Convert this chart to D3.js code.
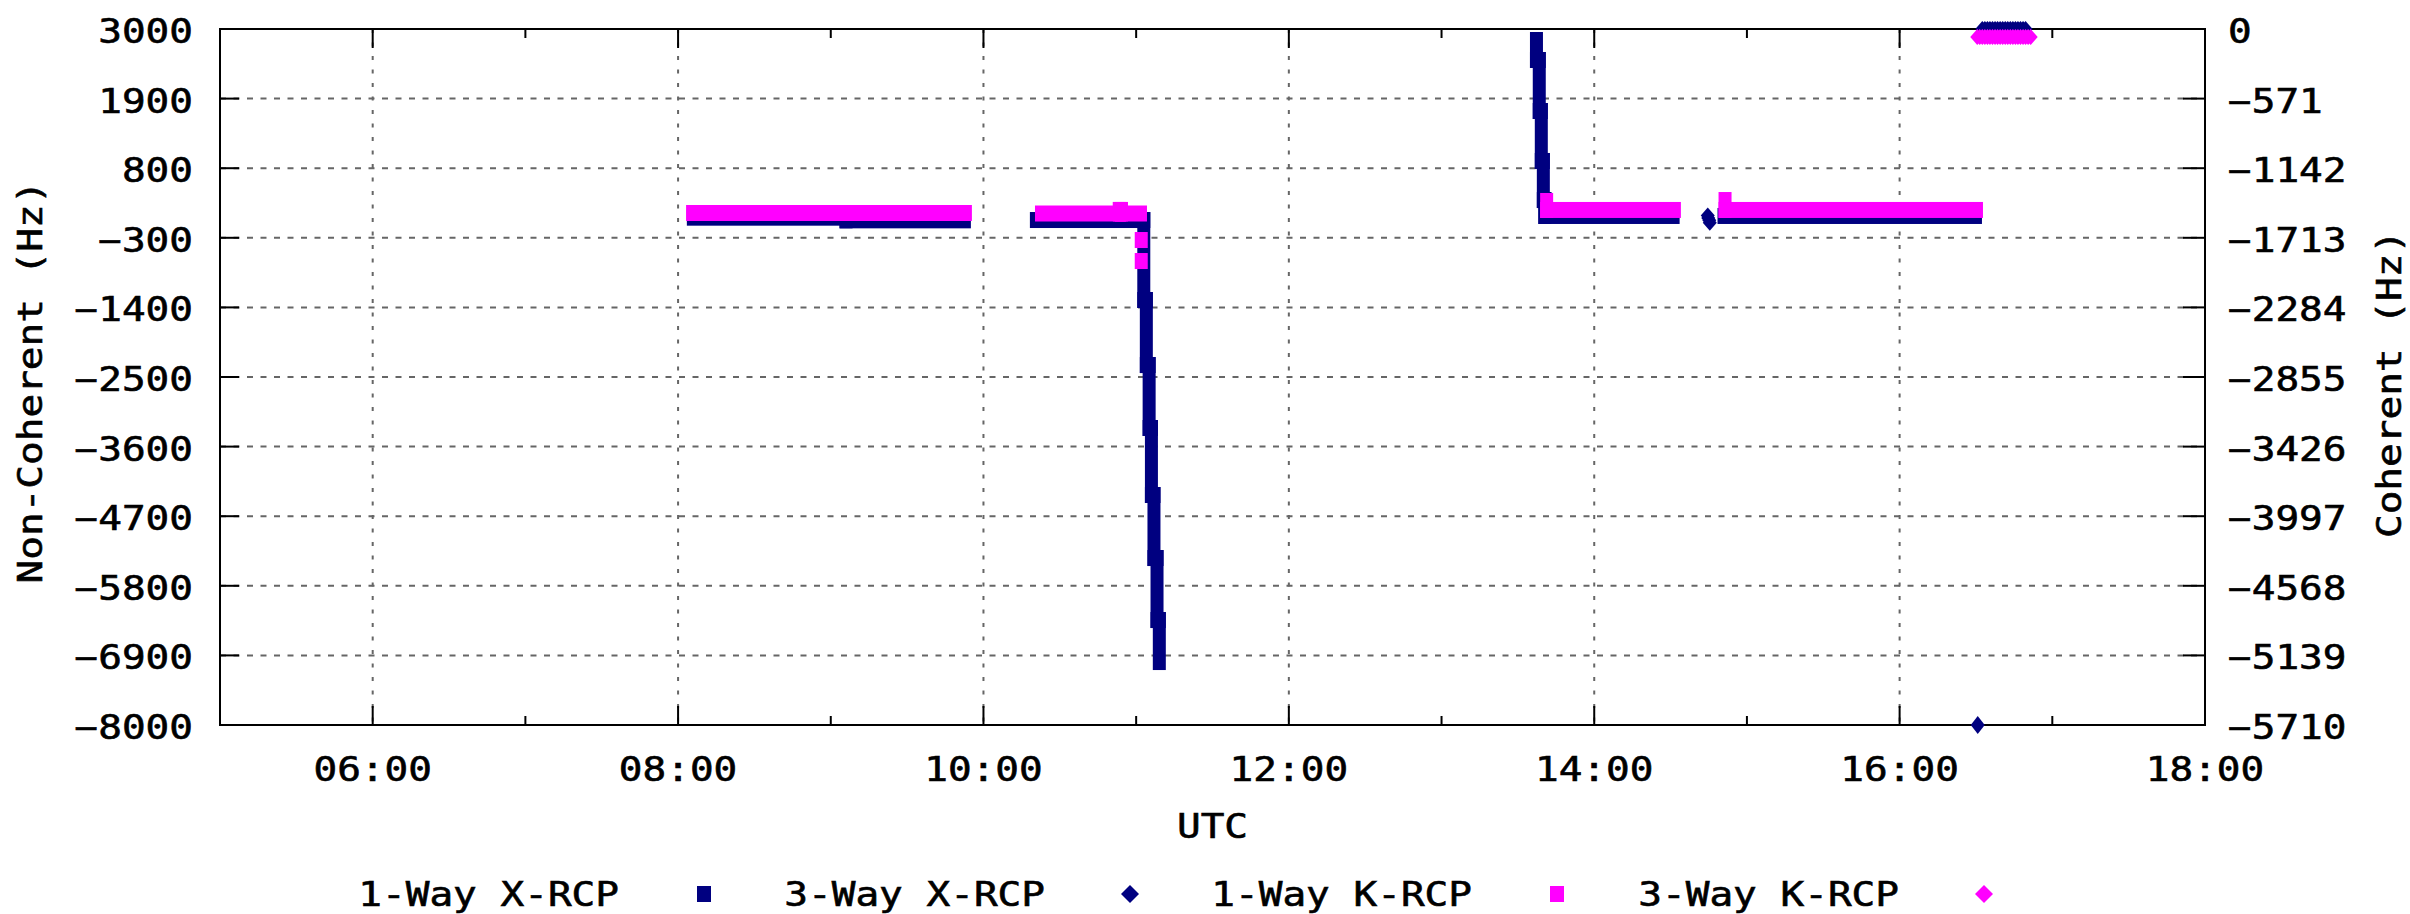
<!DOCTYPE html>
<html><head><meta charset="utf-8">
<script src="https://cdn.jsdelivr.net/npm/d3@7"></script>
<style>html,body{margin:0;padding:0;background:#fff;} svg{display:block;background:#fff;}</style>
</head><body><svg id="chart" width="2410" height="914"></svg>
<script>
// ---------------- data ----------------
const xTickHours = [5,6,7,8,9,10,11,12,13,14,15,16,17,18];
const xTickLabels = ["06:00","08:00","10:00","12:00","14:00","16:00","18:00"];
const yLeftTicks = [3000,1900,800,-300,-1400,-2500,-3600,-4700,-5800,-6900,-8000];
const yRightTicks = [0,-571,-1142,-1713,-2284,-2855,-3426,-3997,-4568,-5139,-5710];
const seriesNames = ["1-Way X-RCP","3-Way X-RCP","1-Way K-RCP","3-Way K-RCP"];
const seriesColors = ["#000080","#000080","#ff00ff","#ff00ff"];
const seriesShapes = ["square","diamond","square","diamond"];

// time = minutes since 00:00 UTC ; value = Hz
// 1-Way series (Non-Coherent, left axis): dense tracks of samples
const oneWayX = [
  [[486,18],[546,18],[546,-24],[592.5,-24]],
  [[620.8,-19],[663,-19],[663,-1283],[664,-1283],[664,-2311],[665.1,-2311],[665.1,-3306],[666,-3306],[666,-4365],[667,-4365],[667,-5361],[668.2,-5361],[668.2,-6341],[669.1,-6341],[669.1,-7005]],
  [[817.3,2826],[817.3,2510],[818.4,2510],[818.4,1704],[819.2,1704],[819.2,914],[820,914],[820,297],[820.6,297],[820.6,45],[871,45]],
  [[891,45],[989.8,45]]
];
const oneWayK = [
  [[485.7,92],[592.9,92]],
  [[622.8,84],[653.4,84],[653.4,140],[654.2,140],[654.2,84],[661.7,84]],
  [[662,-335]],
  [[662,-667]],
  [[821.3,282],[821.3,140],[871.5,140]],
  [[891.4,297],[891.4,140],[990.2,140]]
];
// 3-Way series (Coherent, right axis): individual samples
const threeWayX = [
  [884.6,-1530],[884.8,-1550],[885.2,-1570],[885.4,-1590],[990.7,-5710],
  [992.5,0],[993.5,0],[994.5,0],[995.5,0],[996.5,0],[997.5,0],[998.5,0],[999.5,0],[1000.5,0],
  [1001.5,0],[1002.5,0],[1003.5,0],[1004.5,0],[1005.5,0],[1006.5,0],[1007.5,0],[1008.5,0],[1009.5,0]
];
const threeWayK = [
  [990.5,-66],[991.5,-66],[992.5,-66],[993.5,-66],[994.5,-66],[995.5,-66],[996.5,-66],[997.5,-66],
  [998.5,-66],[999.5,-66],[1000.5,-66],[1001.5,-66],[1002.5,-66],[1003.5,-66],[1004.5,-66],
  [1005.5,-66],[1006.5,-66],[1007.5,-66],[1008.5,-66],[1009.5,-66],[1010.5,-66],[1011.5,-66]
];

// ---------------- layout ----------------
const L = 220, R = 2205, T = 29, B = 725;
const CH = 23.7;           // character advance of the chart font
const FONT = "DejaVu Sans Mono";
const FS = 33;

const svg = d3.select("#chart");
const x = d3.scaleLinear().domain([300, 1080]).range([L, R]);
const y = d3.scaleLinear().domain([-8000, 3000]).range([B, T]);
const y2 = d3.scaleLinear().domain([-5710, 0]).range([B, T]);

function txt(g, s) {
  return g.append("text").text(s)
    .attr("font-family", FONT).attr("font-size", FS).attr("fill", "#000")
    .attr("stroke", "#000").attr("stroke-width", 0.6)
    .attr("textLength", s.length * CH).attr("lengthAdjust", "spacingAndGlyphs");
}

// grid
const grid = svg.append("g").attr("stroke", "#666").attr("stroke-width", 2).attr("fill", "none");
grid.selectAll("line.h").data(yLeftTicks.slice(1, -1)).join("line")
  .attr("x1", L).attr("x2", R).attr("y1", d => y(d)).attr("y2", d => y(d))
  .attr("stroke-dasharray", "6,7.5");
grid.selectAll("line.v").data(xTickHours.filter(h => h % 2 === 0 && h < 18)).join("line")
  .attr("x1", d => x(d * 60)).attr("x2", d => x(d * 60)).attr("y1", T).attr("y2", B)
  .attr("stroke-dasharray", "4,9.5");

// ticks
const ticks = svg.append("g").attr("stroke", "#000").attr("stroke-width", 2);
xTickHours.forEach(h => {
  const len = h % 2 === 0 ? 19 : 9;
  const xx = x(h * 60);
  ticks.append("line").attr("x1", xx).attr("x2", xx).attr("y1", B).attr("y2", B - len);
  ticks.append("line").attr("x1", xx).attr("x2", xx).attr("y1", T).attr("y2", T + len);
});
yLeftTicks.forEach(v => {
  ticks.append("line").attr("x1", L).attr("x2", L + 19).attr("y1", y(v)).attr("y2", y(v));
});
yRightTicks.forEach(v => {
  ticks.append("line").attr("x1", R).attr("x2", R - 22).attr("y1", y2(v)).attr("y2", y2(v));
});

// border
svg.append("rect").attr("x", L).attr("y", T).attr("width", R - L).attr("height", B - T)
  .attr("fill", "none").attr("stroke", "#000").attr("stroke-width", 2);

// tick labels
const fmt = d3.format("d");
const labs = svg.append("g");
yLeftTicks.forEach(v => {
  txt(labs, fmt(v)).attr("x", 193).attr("y", y(v) + 14).attr("text-anchor", "end");
});
yRightTicks.forEach(v => {
  txt(labs, fmt(v)).attr("x", 2228).attr("y", y2(v) + 14).attr("text-anchor", "start");
});
xTickLabels.forEach((s, i) => {
  txt(labs, s).attr("x", x((6 + 2 * i) * 60)).attr("y", 781).attr("text-anchor", "middle");
});

// axis titles
txt(svg, "UTC").attr("x", (L + R) / 2).attr("y", 838).attr("text-anchor", "middle");
txt(svg.append("g").attr("transform", "translate(42,382) rotate(-90)"), "Non-Coherent (Hz)")
  .attr("text-anchor", "middle");
txt(svg.append("g").attr("transform", "translate(2401,384) rotate(-90)"), "Coherent (Hz)")
  .attr("text-anchor", "middle");

// ---------------- marks ----------------
const SQW = 13, SQH = 16, DW = 14, DH = 16;
function drawTracks(tracks, ys, color) {
  const segs = [];
  tracks.forEach(tr => {
    if (tr.length === 1) segs.push([tr[0], tr[0]]);
    for (let i = 0; i < tr.length - 1; i++) segs.push([tr[i], tr[i + 1]]);
  });
  svg.append("g").attr("fill", color).selectAll("rect").data(segs).join("rect")
    .attr("x", d => Math.min(x(d[0][0]), x(d[1][0])) - SQW / 2)
    .attr("y", d => Math.min(ys(d[0][1]), ys(d[1][1])) - SQH / 2)
    .attr("width", d => Math.abs(x(d[0][0]) - x(d[1][0])) + SQW)
    .attr("height", d => Math.abs(ys(d[0][1]) - ys(d[1][1])) + SQH);
}
function diamond(cx, cy, w, h) {
  return `M${cx},${cy - h / 2}L${cx + w / 2},${cy}L${cx},${cy + h / 2}L${cx - w / 2},${cy}Z`;
}
function drawDiamonds(pts, ys, color, w, h) {
  svg.append("g").attr("fill", color).selectAll("path").data(pts).join("path")
    .attr("d", d => diamond(x(d[0]), ys(d[1]), w, d[1] === -5710 ? 18 : h));
}
drawTracks(oneWayX, y, seriesColors[0]);
drawDiamonds(threeWayX, y2, seriesColors[1], DW, DH);
drawTracks(oneWayK, y, seriesColors[2]);
drawDiamonds(threeWayK, y2, seriesColors[3], DW, DH);

// ---------------- legend ----------------
const legendX = [704, 1130, 1557, 1984];
const lg = svg.append("g");
seriesNames.forEach((n, i) => {
  txt(lg, n).attr("x", legendX[i] - 85).attr("y", 906).attr("text-anchor", "end");
  if (seriesShapes[i] === "square") {
    lg.append("rect").attr("x", legendX[i] - 7).attr("y", 894 - 8).attr("width", 14).attr("height", 16)
      .attr("fill", seriesColors[i]);
  } else {
    lg.append("path").attr("d", diamond(legendX[i], 894, 18, 18)).attr("fill", seriesColors[i]);
  }
});
</script></body></html>
